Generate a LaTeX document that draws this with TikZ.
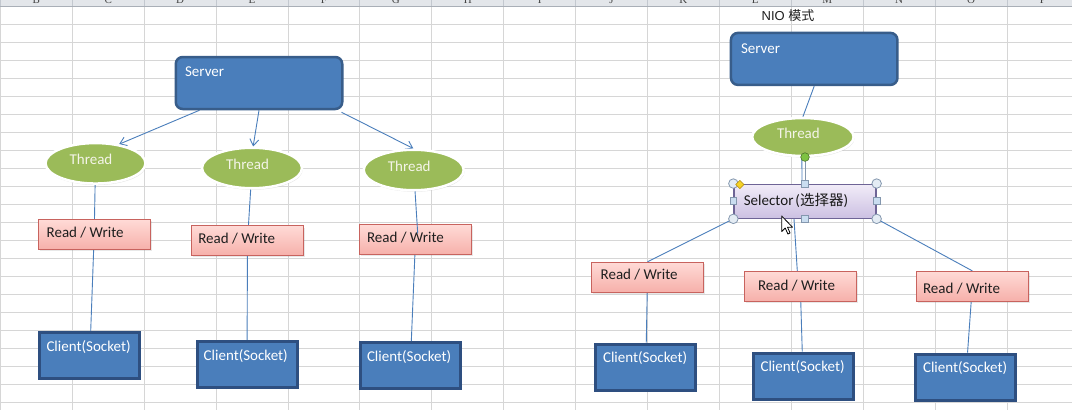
\documentclass[tikz,border=0pt]{standalone}
\usepackage{tikz}
\usepackage{fontspec}
\setmainfont{Carlito}
\newfontfamily\cjk{Noto Sans CJK SC}
\newfontfamily\arialf{Liberation Sans}
\newfontfamily\hdrfont{Liberation Serif}
\usetikzlibrary{shapes.geometric,arrows.meta,calc,shadows}

\pgfdeclarelayer{behind}
\pgfsetlayers{behind,main}

% sheet colours
\definecolor{gridline}{HTML}{D6D6D6}
\definecolor{hdrfill}{HTML}{E3E6EA}
\definecolor{hdrline}{HTML}{A9AFB7}
\definecolor{hdrsep}{HTML}{C3C8CF}
\definecolor{hdrtext}{HTML}{444444}
% shape colours
\definecolor{ofblue}{HTML}{4A7EBB}
\definecolor{srvedge}{HTML}{385D8A}
\definecolor{cliedge}{HTML}{2E4F80}
\definecolor{thgreen}{HTML}{9BBB59}
\definecolor{thtext}{HTML}{F4F4E8}
\definecolor{linkblue}{HTML}{4A7EBB}
\definecolor{rwtop}{HTML}{FFDAD6}
\definecolor{rwbot}{HTML}{F6B0AA}
\definecolor{rwedge}{HTML}{C8635E}
\definecolor{seltop}{HTML}{F1ECF8}
\definecolor{selbot}{HTML}{CCC0E2}
\definecolor{seledge}{HTML}{6E6496}
% selection handles
\definecolor{hcirc}{HTML}{E4ECF4}
\definecolor{hedge}{HTML}{8497AE}
\definecolor{hsq}{HTML}{CADDF0}
\definecolor{rotgreen}{HTML}{7DC242}
\definecolor{diam}{HTML}{F5D327}
\definecolor{diamedge}{HTML}{B08A10}

\tikzset{
  lbl/.style={inner sep=0pt, text height=9.8pt, text depth=0pt,
    font=\fontsize{15}{18}\selectfont},
  server/.style 2 args={rounded corners=7pt, draw=srvedge, line width=2.5pt,
    fill=ofblue, minimum width=166.5pt, minimum height=52pt, inner sep=0pt,
    label={[lbl, text=white, anchor=west, xshift=#1, yshift=#2]west:Server}},
  thread/.style={ellipse, fill=thgreen, draw=white, line width=2.5pt,
    inner sep=0pt, minimum width=100pt, minimum height=40.5pt,
    drop shadow={shadow xshift=0.8pt, shadow yshift=-1.5pt, opacity=0.22},
    label={[lbl, text=thtext, anchor=center, xshift=-4.5pt, yshift=3.5pt]center:Thread}},
  rwbox/.style 2 args={draw=rwedge, line width=0.9pt, top color=rwtop,
    bottom color=rwbot, minimum width=111.5pt, minimum height=29.8pt,
    inner sep=0pt,
    drop shadow={shadow xshift=1.6pt, shadow yshift=-1.6pt, opacity=0.18},
    label={[lbl, text=black!88, anchor=west, xshift=#1, yshift=#2]west:Read / Write}},
  client/.style 2 args={draw=cliedge, line width=3pt, fill=ofblue,
    minimum width=100pt, minimum height=46pt, inner sep=0pt,
    label={[lbl, text=white, anchor=west, xshift=#1, yshift=#2]west:Client(Socket)}},
  selbox/.style={draw=seledge, line width=1.3pt, top color=seltop,
    bottom color=selbot, minimum width=142pt, minimum height=34pt,
    inner sep=0pt,
    label={[lbl, text=black!90, anchor=west, xshift=10.3pt, yshift=0.2pt]west:{Selector\kern2pt({\cjk\fontsize{14.5}{17}\selectfont 选择器})}}},
  link/.style={draw=linkblue, line width=0.9pt},
  barb/.style={-{Straight Barb[length=6.5pt,width=9pt]}},
  hcircle/.style={circle, draw=hedge, fill=hcirc, line width=0.8pt,
    minimum size=9.5pt, inner sep=0pt},
  hsquare/.style={rectangle, draw=hedge, fill=hsq, line width=0.8pt,
    minimum size=6.8pt, inner sep=0pt},
}

\begin{document}
\begin{tikzpicture}[x=1pt, y=-1pt]
\useasboundingbox (0,0) rectangle (1072,410);

% ---- worksheet background ----
\begin{pgfonlayer}{behind}
  \fill[white] (0,0) rectangle (1072,410);
  \foreach \k in {0,...,14}
    \draw[gridline, line width=1pt] ({0.4+71.9*\k},6.5) -- ({0.4+71.9*\k},410);
  \foreach \k in {1,...,22}
    \draw[gridline, line width=1pt] (0,{6.3+18*\k}) -- (1072,{6.3+18*\k});
  \fill[hdrfill] (0,0) rectangle (1072,6.5);
  \foreach \k in {0,...,14}
    \draw[hdrsep, line width=1pt] ({0.4+71.9*\k},0) -- ({0.4+71.9*\k},6.5);
  \begin{scope}
    \clip (0,0) rectangle (1072,6);
    \foreach \L [count=\i from 0] in {B,C,D,E,F,G,H,I,J,K,L,M,N,O,P}
      \node[anchor=base, inner sep=0pt, text=hdrtext,
        font=\hdrfont\fontsize{11}{11}\selectfont] (col\L) at ({0.4+71.9*(\i+0.5)},3.6) {\L};
  \end{scope}
  \draw[hdrline, line width=1.3pt] (0,6.6) -- (1072,6.6);
\end{pgfonlayer}

% ---- title ----
\node[inner sep=0pt, text=black!88, font=\fontsize{13}{15}\selectfont] (title)
  at (788,15.5) {\arialf NIO {\cjk 模式}};

% ---- blocking model ----
\node[server={10.4pt}{11pt}] (srvL) at (259,83) {};
\node[thread] (t1) at (95.5,163.3) {};
\node[thread] (t2) at (252,168) {};
\node[thread] (t3) at (413.7,170) {};
\node[rwbox={8.5pt}{1.7pt}] (rw1) at (94.2,234.7) {};
\node[rwbox={6.8pt}{2.2pt}] (rw2) at (247.5,240.8) {};
\node[rwbox={7.5pt}{2pt}] (rw3) at (415.5,239.7) {};
\node[client={8pt}{9.1pt}] (c1) at (89.8,355.8) {};
\node[client={8pt}{9pt}] (c2) at (247,364.7) {};
\node[client={8pt}{9.1pt}] (c3) at (410.3,365.8) {};

% ---- NIO model ----
\node[server={11.1pt}{10.6pt}] (srvR) at (814.2,58.9) {};
\node[thread, minimum width=101.5pt, minimum height=38pt] (t4) at (802.9,137) {};
\node[selbox] (sel) at (805,201.2) {};
\node[rwbox={9.2pt}{2.2pt}] (rw4) at (647.5,277.2) {};
\node[rwbox={13.8pt}{0.5pt}] (rw5) at (800.3,286.2) {};
\node[rwbox={6.8pt}{-2.8pt}] (rw6) at (972.3,286.2) {};
\node[client={8.5pt}{9.5pt}] (c4) at (645.8,367.2) {};
\node[client={8.8pt}{9.5pt}] (c5) at (803,376.2) {};
\node[client={8.5pt}{9.5pt}] (c6) at (965.8,377.2) {};

% ---- connectors ----
\begin{pgfonlayer}{behind}
  \draw[link, barb] ($(srvL.south west)+(25,0)$) -- (t1.39);
  \draw[link, barb] (srvL.south) -- (t2.87);
  \draw[link, barb] ($(srvL.south east)+(-2,2)$) -- (t3.91);
  \draw[link] (t1) -- (rw1);
  \draw[link] (rw1) -- (c1);
  \draw[link] (t2) -- (rw2);
  \draw[link] (rw2) -- (c2);
  \draw[link] (rw3) -- (c3);

  \draw[link] (srvR.south) -- (t4.north);
  \draw[link] ($(t4.south)+(-1,0)$) -- ($(sel.north)+(-3,0)$);
  \draw[link] (sel.south west) -- (rw4.north);
  \draw[link] ($(sel.south)+(-11,0)$) -- ($(rw5.north)+(-3,0)$);
  \draw[link] (sel.south east) -- (rw6.north);
  \draw[link] (rw4) -- (c4);
  \draw[link] (rw5) -- (c5);
  \draw[link] (rw6) -- (c6);
\end{pgfonlayer}
\coordinate (rw3in) at ($(rw3.center)+(2.2,-6.4)$);
\draw[link] (t3) -- (rw3in);

% ---- selection handles on the selector ----
\coordinate (rot) at ($(sel.north)+(0,-26.5)$);
\draw[hedge, line width=0.8pt] (rot) -- (sel.north);
\node[circle, fill=rotgreen, draw=rotgreen!60!black, line width=0.6pt,
  minimum size=8.6pt, inner sep=0pt] (rotdot) at (rot) {};
\node[hcircle] (hnw) at (sel.north west) {};
\node[hcircle] (hne) at (sel.north east) {};
\node[hcircle] (hsw) at (sel.south west) {};
\node[hcircle] (hse) at (sel.south east) {};
\node[hsquare] (hn) at (sel.north) {};
\node[hsquare] (hs) at (sel.south) {};
\node[hsquare] (hw) at (sel.west) {};
\node[hsquare] (he) at (sel.east) {};
\node[diamond, fill=diam, draw=diamedge, line width=0.6pt, inner sep=0pt,
  minimum size=8.5pt] (hadj) at ($(sel.north west)+(6.5,1)$) {};

% ---- mouse pointer ----
\draw[fill=white, draw=black, line width=0.8pt, line join=round]
  (781.7,216) -- ++(0,15.5) -- ++(3.5,-3.5) -- ++(2.7,6) -- ++(2.2,-1)
  -- ++(-2.6,-5.8) -- ++(5,0) -- cycle;
\end{tikzpicture}
\end{document}
